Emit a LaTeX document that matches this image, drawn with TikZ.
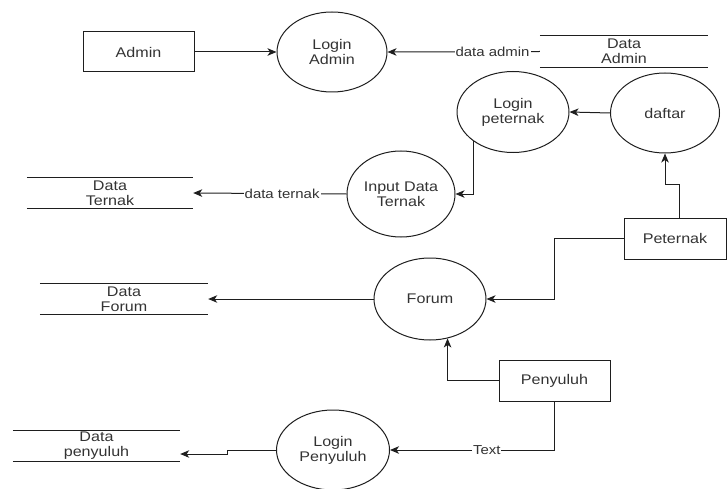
\documentclass[tikz,border=0pt]{standalone}
\usepackage{fontspec}
\setmainfont{Liberation Sans}[FakeStretch=1.15]
\usetikzlibrary{shapes.geometric,arrows.meta,calc}
\definecolor{linec}{HTML}{1E1E1E}
\definecolor{txt}{HTML}{333333}
\begin{document}
\begin{tikzpicture}[x=1pt,y=-1pt,
  font=\fontsize{14}{15}\selectfont,
  proc/.style={ellipse, draw=linec, line width=1pt, text=txt, inner sep=0pt, align=center},
  ent/.style={rectangle, draw=linec, line width=1pt, text=txt, inner sep=0pt, align=center},
  store/.style={rectangle, inner sep=0pt, text=txt, align=center},
  storeline/.style={draw=linec, line width=1pt},
  flow/.style={draw=linec, line width=1pt, -{Stealth[length=9pt,width=7.5pt,inset=2.5pt]}},
  lbl/.style={fill=white, inner sep=1pt, text=txt, font=\fontsize{13}{14}\selectfont}
]
\useasboundingbox (0,0) rectangle (727,489);

% entities
\node[ent, minimum width=111pt, minimum height=40pt] (admin) at (138.5,52) {Admin};
\node[ent, minimum width=102pt, minimum height=41pt] (peternak) at (675,238.5) {Peternak};
\node[ent, minimum width=111pt, minimum height=41pt] (penyuluh) at (554.5,380.5) {Penyuluh};

% processes
\node[proc, minimum width=110pt, minimum height=80pt] (loginadmin) at (332,52) {Login\\Admin};
\node[proc, minimum width=112pt, minimum height=81pt] (loginpeternak) at (513,112) {Login\\peternak};
\node[proc, minimum width=109pt, minimum height=80pt] (daftar) at (665,113) {daftar};
\node[proc, minimum width=108pt, minimum height=86pt] (inputdata) at (401,194) {Input Data\\Ternak};
\node[proc, minimum width=112pt, minimum height=82pt] (forum) at (430,299) {Forum};
\node[proc, minimum width=113pt, minimum height=80pt] (loginpenyuluh) at (333,450) {Login\\Penyuluh};

% data stores
\node[store, minimum width=168pt, minimum height=31pt] (dataadmin) at (624,51.5) {Data\\Admin};
\node[store, minimum width=166pt, minimum height=30pt] (dataternak) at (110,193) {Data\\Ternak};
\node[store, minimum width=168pt, minimum height=30pt] (dataforum) at (124,299) {Data\\Forum};
\node[store, minimum width=167pt, minimum height=30pt] (datapenyuluh) at (96.5,446) {Data\\penyuluh};

\foreach \s in {dataadmin,dataternak,dataforum,datapenyuluh}{
  \draw[storeline] (\s.north west) -- (\s.north east);
  \draw[storeline] (\s.south west) -- (\s.south east);
}

% flows
\draw[flow] (admin.east) -- (loginadmin.west);
\draw[flow] (dataadmin.west) -- node[lbl, pos=0.31] {data admin} (loginadmin.east);
\draw[flow] (daftar.west) -- (loginpeternak.east);
\draw[flow] (loginpeternak.south west) |- (inputdata.east);
\draw[flow] (inputdata.west) -- node[lbl, pos=0.42] {data ternak} (dataternak.east);
\draw[flow] ([xshift=4pt]peternak.north) -- ++(0,-33) -| (daftar.south);
\draw[flow] (peternak.west) -- ++(-69,0) |- (forum.east);
\draw[flow] (forum.west) -- (dataforum.east);
\draw[flow] (penyuluh.west) -| (forum.-66);
\draw[flow] (penyuluh.south) |- node[lbl, pos=0.706] {Text} (loginpenyuluh.east);
\draw[flow] (loginpenyuluh.west) -- ++(-49,0) |- ([yshift=-8pt]datapenyuluh.east);
\end{tikzpicture}
\end{document}
